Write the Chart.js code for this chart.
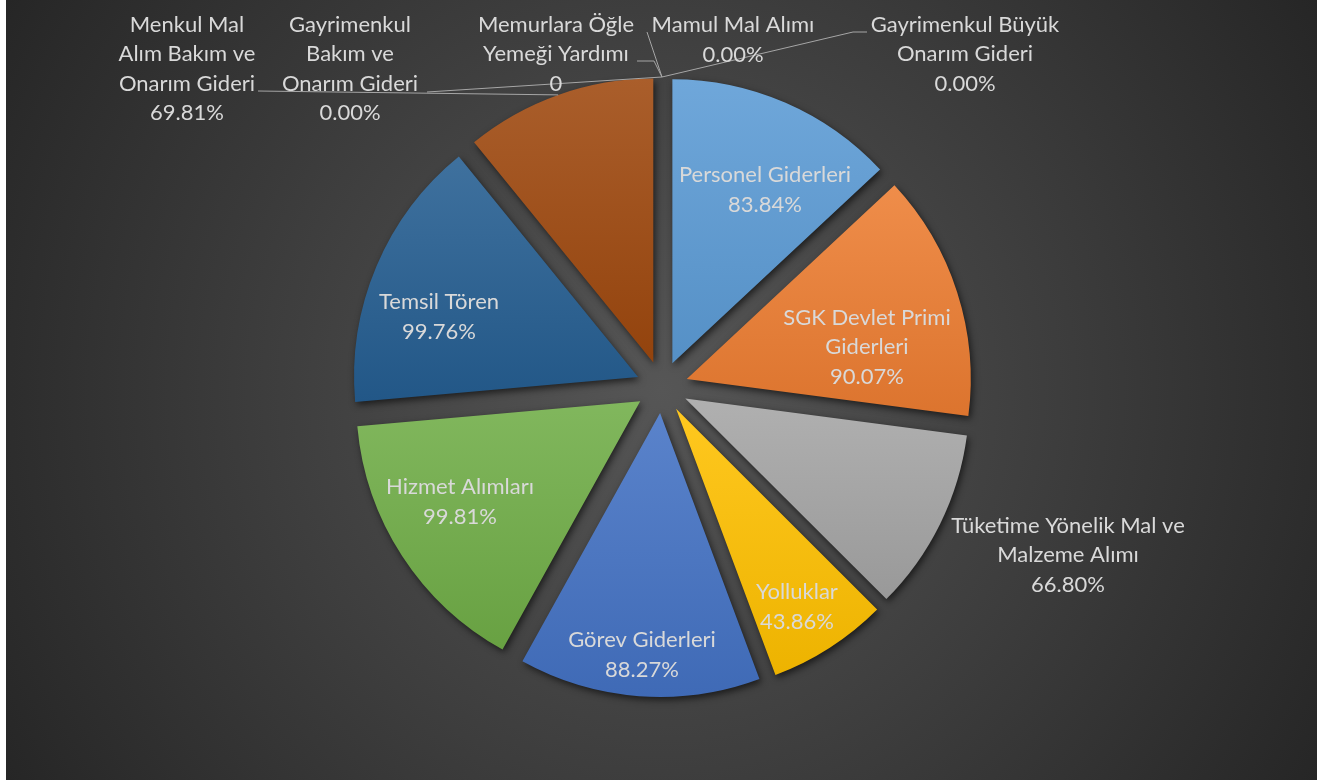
<!DOCTYPE html>
<html lang="tr">
<head>
<meta charset="utf-8">
<title>Gider Gerçekleşme Oranları</title>
<script src="https://cdn.jsdelivr.net/npm/chart.js@4.4.1/dist/chart.umd.min.js"></script>
<style>
  html, body { margin: 0; padding: 0; background: #fff; }
  #wrap {
    position: absolute; left: 6px; top: 0; width: 1311px; height: 780px;
    background: radial-gradient(circle farthest-corner at 50% 50%, #565656 0%, #262626 100%);
  }
</style>
</head>
<body>
<div id="wrap"><canvas id="pie"></canvas></div>
<script>
// categories (already wrapped the way the labels show them)
const categories = [
  ['Personel Giderleri'],
  ['SGK Devlet Primi', 'Giderleri'],
  ['Tüketime Yönelik Mal ve', 'Malzeme Alımı'],
  ['Yolluklar'],
  ['Görev Giderleri'],
  ['Hizmet Alımları'],
  ['Temsil Tören'],
  ['Menkul Mal', 'Alım Bakım ve', 'Onarım Gideri'],
  ['Gayrimenkul', 'Bakım ve', 'Onarım Gideri'],
  ['Memurlara Öğle', 'Yemeği Yardımı'],
  ['Mamul Mal Alımı'],
  ['Gayrimenkul Büyük', 'Onarım Gideri']
];
const rates = [83.84, 90.07, 66.80, 43.86, 88.27, 99.81, 99.76, 69.81, 0, 0, 0, 0];
const rateText = ['83.84%', '90.07%', '66.80%', '43.86%', '88.27%', '99.81%', '99.76%', '69.81%', '0.00%', '0', '0.00%', '0.00%'];

const sliceColors = ['#5B9BD5', '#ED7D31', '#A5A5A5', '#FFC000', '#4472C4', '#70AD47',
                     '#255E91', '#9E480E', '#636363', '#997300', '#264478', '#43682B'];

// label block centres, relative to pie centre
const labelPos = [
  [103, -197], [205, -40], [406, 168], [135, 220], [-20, 268], [-202, 115], [-223, -70],
  [-475, -318], [-312, -318], [-106, -333], [71, -347], [303, -333]
];
// leader line points (relative to pie centre), they end on the slice's outer edge
const leaders = {
  7: [[-404, -296]],
  8: [[-235, -295]],
  9: [[-25, -326], [-8, -326]],
  10: [[-15, -355]],
  11: [[205, -355], [191, -355]]
};

const EXPLODE = 26;
const LINE_H = 29.5;

function shade(hex, amt) {
  const n = parseInt(hex.slice(1), 16);
  let c = [(n >> 16) & 255, (n >> 8) & 255, n & 255];
  c = c.map(v => Math.round(amt >= 0 ? v + (255 - v) * amt : v * (1 + amt)));
  return `rgb(${c[0]},${c[1]},${c[2]})`;
}

function sliceBounds(arc) {
  const r = arc.outerRadius;
  const ys = [0, Math.sin(arc.startAngle) * r, Math.sin(arc.endAngle) * r];
  [-Math.PI / 2, Math.PI / 2, 3 * Math.PI / 2, 5 * Math.PI / 2].forEach(a => {
    if (a > arc.startAngle && a < arc.endAngle) ys.push(Math.sin(a) * r);
  });
  return [Math.min(...ys), Math.max(...ys)];
}

const explodePlugin = {
  id: 'explode',
  beforeDatasetDraw(chart, args) {
    const ctx = chart.ctx;
    args.meta.data.forEach((arc, i) => {
      if (!arc.circumference) return;
      const mid = (arc.startAngle + arc.endAngle) / 2;
      const [y0, y1] = sliceBounds(arc);
      const grad = ctx.createLinearGradient(0, arc.y + y0, 0, arc.y + y1);
      grad.addColorStop(0, shade(sliceColors[i], 0.12));
      grad.addColorStop(1, shade(sliceColors[i], -0.07));
      arc.options.backgroundColor = grad;
      ctx.save();
      ctx.translate(Math.cos(mid) * EXPLODE, Math.sin(mid) * EXPLODE);
      ctx.shadowColor = 'rgba(0,0,0,0.6)';
      ctx.shadowBlur = 7;
      ctx.shadowOffsetX = 2;
      ctx.shadowOffsetY = 3;
      arc.draw(ctx);
      ctx.restore();
    });
    return false;
  }
};

const labelPlugin = {
  id: 'sliceLabels',
  afterDatasetsDraw(chart) {
    const ctx = chart.ctx;
    const arcs = chart.getDatasetMeta(0).data;
    const cx = arcs[0].x, cy = arcs[0].y;
    ctx.save();
    // leader lines
    ctx.strokeStyle = '#a6a6a6';
    ctx.lineWidth = 1;
    Object.keys(leaders).forEach(k => {
      const arc = arcs[k];
      const mid = (arc.startAngle + arc.endAngle) / 2;
      const rr = arc.outerRadius + EXPLODE;
      ctx.beginPath();
      leaders[k].forEach((p, j) => {
        if (j === 0) ctx.moveTo(cx + p[0], cy + p[1]);
        else ctx.lineTo(cx + p[0], cy + p[1]);
      });
      ctx.lineTo(cx + Math.cos(mid) * rr, cy + Math.sin(mid) * rr);
      ctx.stroke();
    });
    // texts
    ctx.fillStyle = '#d9d9d9';
    ctx.font = '22px Lato';
    ctx.textAlign = 'center';
    ctx.textBaseline = 'middle';
    categories.forEach((cat, i) => {
      const lines = cat.concat(rateText[i]);
      const x = cx + labelPos[i][0];
      const y0 = cy + labelPos[i][1] - (lines.length - 1) / 2 * LINE_H;
      lines.forEach((t, j) => ctx.fillText(t, x, y0 + j * LINE_H));
    });
    ctx.restore();
  }
};

new Chart(document.getElementById('pie'), {
  type: 'pie',
  data: {
    labels: categories,
    datasets: [{
      data: rates,
      backgroundColor: sliceColors,
      borderWidth: 0
    }]
  },
  options: {
    responsive: true,
    maintainAspectRatio: false,
    animation: false,
    radius: 284,
    layout: { padding: { left: 1, right: 0, top: 0, bottom: 6 } },
    plugins: {
      legend: { display: false },
      tooltip: { enabled: false }
    }
  },
  plugins: [explodePlugin, labelPlugin]
});
</script>
</body>
</html>
